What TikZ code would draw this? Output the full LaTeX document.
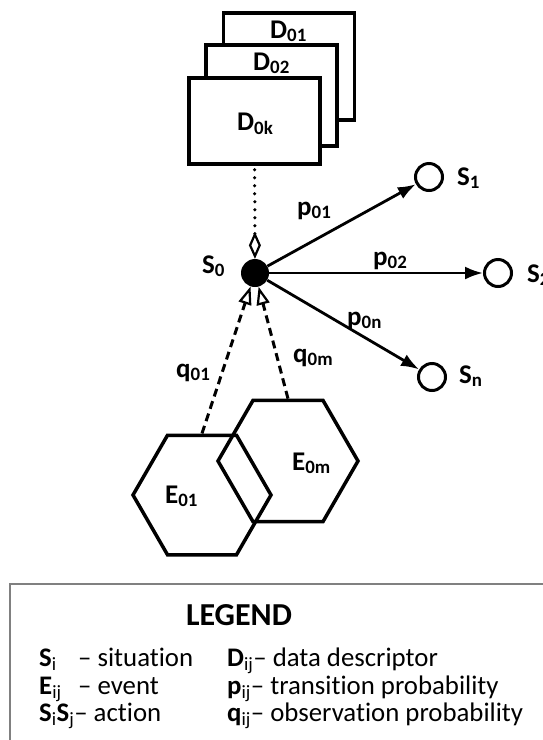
\documentclass[tikz,border=0pt]{standalone}
\usepackage{fontspec}
\setmainfont{Carlito}[Ligatures={TeX,NoCommon}]
\usetikzlibrary{arrows.meta,shapes.geometric}
\newcommand\sym[2]{\textbf{#1}\textsubscript{#2}}
\begin{document}
\begin{tikzpicture}[x=1pt, y=-1pt,
        dd/.style={rectangle, draw, fill=white, line width=3.5pt, inner sep=0, minimum width=131pt},
        st/.style={circle, draw, fill=white, line width=3pt, inner sep=0, minimum size=27pt},
        ev/.style={regular polygon, regular polygon sides=6, draw, line width=3.5pt, inner sep=0},
        lb/.style={anchor=base west, inner sep=0, font=\bfseries\fontsize{27pt}{31pt}\selectfont},
        lg/.style={anchor=base west, inner sep=0, font=\fontsize{26.8pt}{31pt}\selectfont},
        pa/.style={line width=2.8pt, -{Latex[length=18pt, width=13pt]}},
        qa/.style={line width=3pt, dash pattern=on 8pt off 5pt, -{Triangle[open, length=18pt, width=13pt, line width=2.2pt]}},
    ]
    \useasboundingbox (0,0) rectangle (542,740);
    % data descriptors
    \node[dd, minimum height=107pt] (D1) at (289,66.5) {};
    \node[dd, minimum height=101pt] (D2) at (271.5,95.5) {};
    \node[dd, minimum height=86pt] (Dk) at (254.5,121) {};
    \node[lb] at (270,38) {\sym{D}{01}};
    \node[lb] at (253,70) {\sym{D}{02}};
    \node[lb] at (237,130) {\sym{D}{0k}};
    % situations
    \node[circle, fill=black, inner sep=0, minimum size=28pt] (S0) at (255,273) {};
    \node[st] (S1) at (429,177) {};
    \node[st] (S2) at (498,273) {};
    \node[st] (Sn) at (432,377) {};
    \node[lb] at (202,273) {\sym{S}{0}};
    \node[lb] at (457,185) {\sym{S}{1}};
    \node[lb] at (527,282) {\sym{S}{2}};
    \node[lb] at (459,383) {\sym{S}{n}};
    \draw[line width=3.5pt, line cap=round, dash pattern=on 0pt off 8pt, dash phase=-4pt,
        -{Diamond[open, length=27pt, width=12pt, line width=2.2pt]}] (Dk) -- (S0);
    \draw[pa] (S0) -- (S1);
    \draw[pa] (S0) -- (S2);
    \draw[pa] (S0) -- (Sn);
    \node[lb] at (297,215) {\sym{p}{01}};
    \node[lb] at (373,265) {\sym{p}{02}};
    \node[lb] at (347,325) {\sym{p}{0n}};
    % events
    \node[ev, minimum size=138pt] (E1) at (202,495) {};
    \node[ev, minimum size=140pt] (Em) at (288,461) {};
    \node[lb] at (165,503) {\sym{E}{01}};
    \node[lb] at (292,470) {\sym{E}{0m}};
    \draw[qa] (E1.north) -- (S0);
    \draw[qa] (Em.north) -- (S0);
    \node[lb] at (176,377) {\sym{q}{01}};
    \node[lb] at (293,362) {\sym{q}{0m}};
    % legend
    \draw[gray, line width=1.5pt] (10,584) rectangle (600,800);
    \node[anchor=base, inner sep=0, font=\bfseries\fontsize{32pt}{38pt}\selectfont] (L) at (239,625) {LEGEND};
    \node[lg] at (39,666) {\textbf{S}\textsubscript{i}};
    \node[lg] at (78,666) {– situation};
    \node[lg] at (39,694) {\textbf{E}\textsubscript{ij}};
    \node[lg] at (78,694) {– event};
    \node[lg] at (39,721) {\textbf{S}\textsubscript{i}\textbf{S}\textsubscript{j}– action};
    \node[lg] at (227,666) {\textbf{D}\textsubscript{ij}– data descriptor};
    \node[lg] at (227,694) {\textbf{p}\textsubscript{ij}– transition probability};
    \node[lg] at (227,721) {\textbf{q}\textsubscript{ij}– observation probability};
\end{tikzpicture}
\end{document}
